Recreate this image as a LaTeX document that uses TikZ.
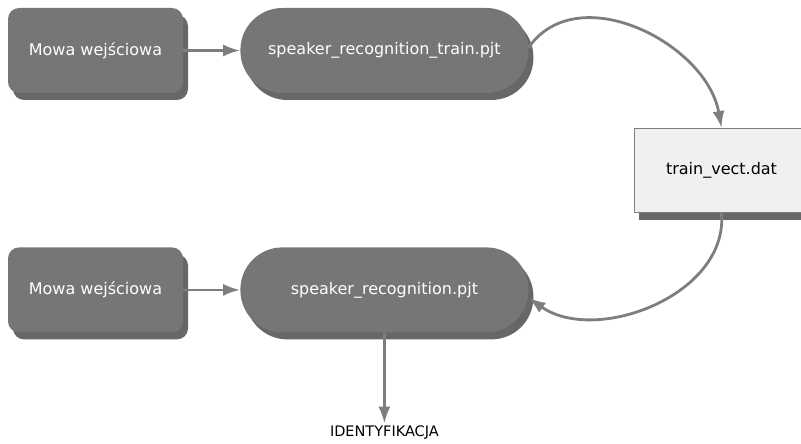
\documentclass[tikz,border=0pt]{standalone}
\usepackage{fontspec}
\setmainfont{DejaVu Sans}
\usetikzlibrary{arrows.meta,positioning,shadows,calc}
\definecolor{nodegray}{HTML}{767676}
\definecolor{arrgray}{HTML}{7E7E7E}
\definecolor{filebox}{HTML}{F0F0F0}

\begin{document}
\begin{tikzpicture}[
  x=1pt, y=1pt,
  every node/.style={font=\fontsize{16}{19}\selectfont, align=center},
  shade/.style={drop shadow={shadow xshift=5pt, shadow yshift=-7pt, opacity=0.7, fill=black!85}},
  input/.style={fill=nodegray, text=white, rounded corners=11pt, minimum width=175pt, minimum height=85pt, shade},
  proj/.style={fill=nodegray, text=white, rounded corners=42pt, minimum width=288pt, minimum height=85pt, shade},
  datafile/.style={fill=filebox, draw=arrgray, line width=1pt, minimum width=175pt, minimum height=84pt, shade},
  arr/.style={-{Latex[length=17pt, width=12pt]}, draw=arrgray, line width=2.8pt},
]
  \useasboundingbox (0,0) rectangle (801,-444);

  % Training
  \node[input] (in1) at (95.5,-50.5) {Mowa wejściowa};
  \node[proj, right=57pt of in1] (train) {speaker\_recognition\_train.pjt};
  \node[datafile] (vect) at (721.5,-170.5) {train\_vect.dat};

  % Recognition
  \node[input, below=154pt of in1] (in2) {Mowa wejściowa};
  \node[proj, right=57pt of in2] (recog) {speaker\_recognition.pjt};
  \node[below=91pt of recog, inner sep=2pt, font=\fontsize{14.5}{17}\selectfont] (ident) {IDENTYFIKACJA};

  \coordinate (tstart) at ($(train.east)+(0,3)$);
  \coordinate (rend) at ($(recog.east)+(0,-8)$);

  \draw[arr] (in1) -- (train);
  \draw[arr] (in2) -- (recog);
  \draw[arr] (tstart) to[out=55, in=100, looseness=1.05] (vect.north);
  \draw[arr] (vect.south) to[out=-85, in=-35] (rend);
  \draw[arr] (recog) -- (ident);
\end{tikzpicture}
\end{document}
